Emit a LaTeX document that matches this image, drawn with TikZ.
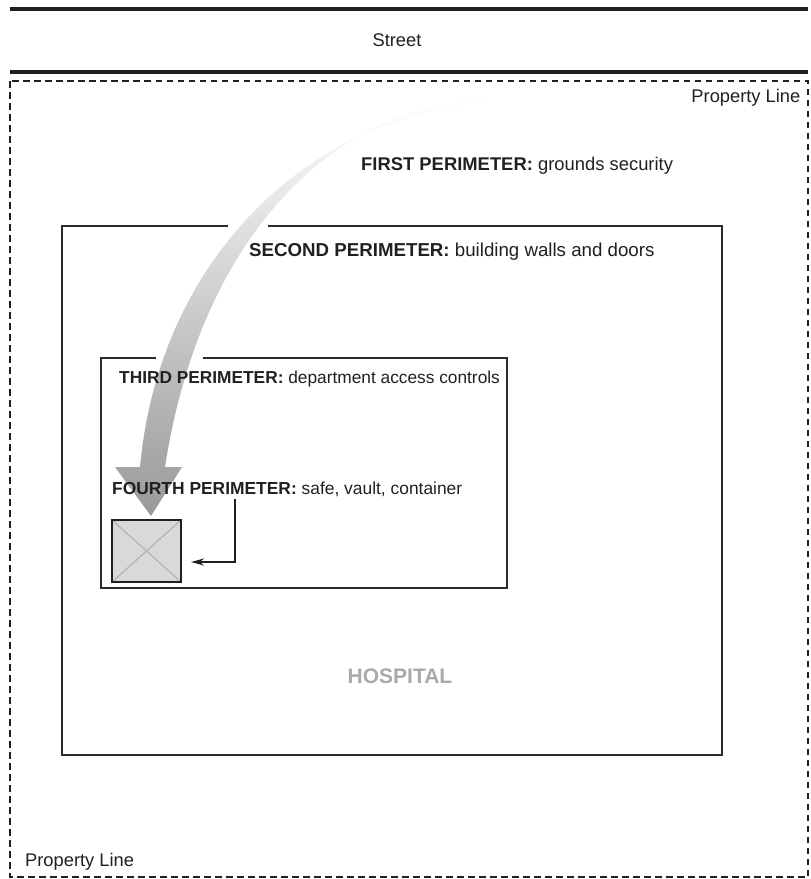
\documentclass[tikz,border=0pt]{standalone}
\usepackage{fontspec}
\setmainfont{Liberation Sans}
\usetikzlibrary{arrows.meta}
\definecolor{ink}{HTML}{231F20}
\definecolor{wall}{HTML}{2B2B2B}
\definecolor{safefill}{HTML}{D9D9D9}
\definecolor{safex}{HTML}{B3B3B3}
\definecolor{bldg}{HTML}{A7A9AC}
\definecolor{flow}{HTML}{999999}
\tikzset{
  every node/.style = {text=ink, inner sep=0pt},
  spstreet/.style = {draw=ink, line width=3.5pt},
  spprop/.style   = {draw=ink, line width=1.8pt, dash pattern=on 6.5pt off 4.5pt},
  spwall/.style   = {draw=wall, line width=2.2pt},
  spdept/.style   = {draw=wall, line width=2pt},
  spplain/.style  = {font=\fontsize{18.3}{22}\selectfont},
  splabel/.style  = {anchor=base west},
  spbldg/.style   = {font=\fontsize{21}{24}\selectfont\bfseries, text=bldg, anchor=base},
  spsafe/.style   = {draw=ink, line width=2pt, fill=safefill, minimum width=69pt, minimum height=62pt,
                     path picture={\draw[safex, line width=1.2pt]
                       (path picture bounding box.north west) -- (path picture bounding box.south east)
                       (path picture bounding box.south west) -- (path picture bounding box.north east);}},
  sppoint/.style  = {-{Stealth[length=13pt,width=7pt]}, draw=ink, line width=1.7pt},
}

\begin{document}
\begin{tikzpicture}[x=1pt, y=-1pt]
\useasboundingbox (0,0) rectangle (811,879);

% street and property line
\draw[spstreet] (10,9) -- (808,9);
\draw[spstreet] (10,72) -- (808,72);
\node[spplain, anchor=base] (street) at (397,46.5) {Street};
\draw[spprop] (10,81) rectangle (808,877);
\node[spplain, anchor=base east] (proptop) at (800.5,102) {Property Line};
\node[spplain, anchor=base west] (propbot) at (25,866) {Property Line};

% building and department, each with an opening for the path
\draw[spwall] (228,226) -- (62,226) -- (62,755) -- (722,755) -- (722,226) -- (268,226);
\draw[spdept] (156,357.5) -- (100.5,357.5) -- (100.5,588) -- (507,588) -- (507,357.5) -- (203,357.5);

% path from the grounds down to the safe
\shade[top color=white, bottom color=flow]
  (492,99) .. controls (330,104) and (200,240) .. (165,467) -- (182,467) -- (151,516)
  -- (115,467) -- (140,467) .. controls (160,250) and (320,112) .. (486,104) -- cycle;

\node[spsafe] (safe) at (146.5,551) {};

\node[splabel, font=\fontsize{18.4}{22}\selectfont] (first)  at (361,170)
  {\textbf{FIRST PERIMETER:} grounds security};
\node[splabel, font=\fontsize{18.7}{22}\selectfont] (second) at (249,256)
  {\textbf{SECOND PERIMETER:} building walls and doors};
\node[splabel, font=\fontsize{17.3}{21}\selectfont] (third)  at (119,383)
  {\textbf{THIRD PERIMETER:} department access controls};
\node[splabel, font=\fontsize{17.4}{21}\selectfont] (fourth) at (112,494)
  {\textbf{FOURTH PERIMETER:} safe, vault, container};
\node[spbldg] (hospital) at (400,683) {HOSPITAL};

\coordinate (tick) at (235,499);
\coordinate (tickend) at (191,562);
\draw[sppoint] (tick) |- (tickend);
\end{tikzpicture}
\end{document}
